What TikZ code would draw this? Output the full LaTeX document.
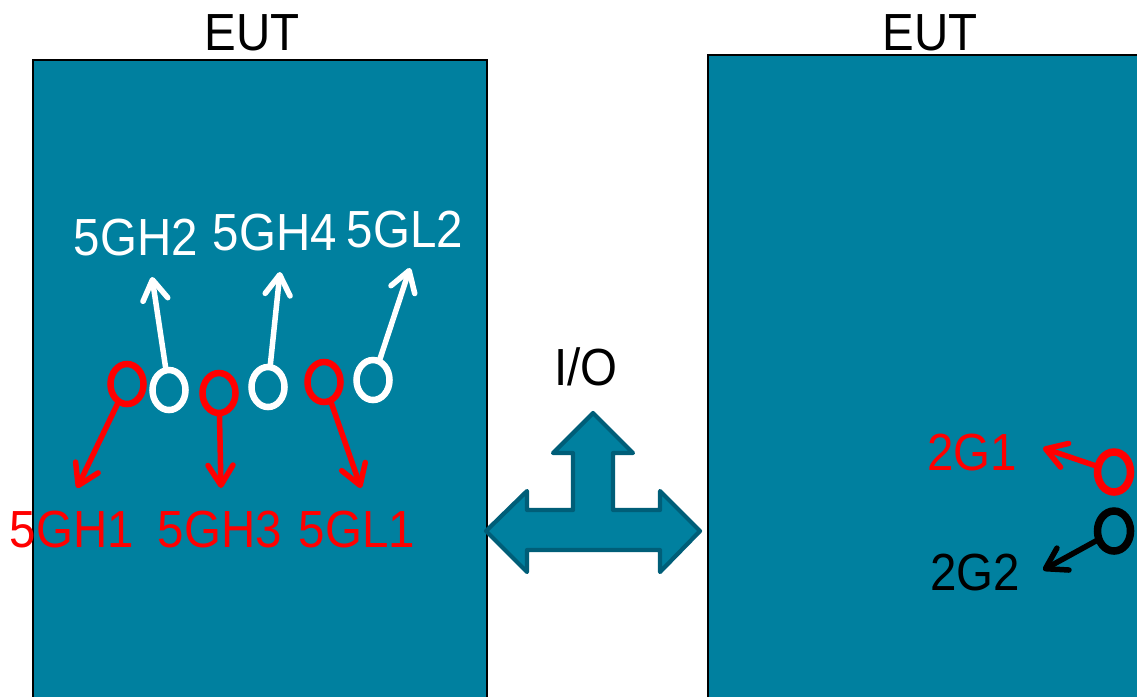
\documentclass[tikz,border=0pt]{standalone}
\usepackage{fontspec}
\setmainfont{Liberation Sans}
\usetikzlibrary{shapes.geometric,arrows.meta}
\definecolor{eutblue}{RGB}{0,128,159}
\definecolor{eutedge}{RGB}{0,94,120}
\tikzset{
	lbl/.style={font=\fontsize{13.5}{15}\selectfont, inner sep=0pt, yscale=1.1},
	ant/.style={ellipse, minimum width=0.33cm, minimum height=0.40cm, inner sep=0pt, line width=0.065cm},
	sig/.style={line width=0.055cm, line cap=round, -{Straight Barb[length=2mm,width=2.5mm,line cap=round,line join=round]}, shorten <=-1pt}
}
\begin{document}
\begin{tikzpicture}[x=0.01cm,y=-0.01cm]
		\useasboundingbox (0,0) rectangle (1137,696);
		\clip (0,0) rectangle (1137,696);
		% the two EUT boxes
		\draw[fill=eutblue, line width=0.6pt] (33,60) rectangle (487,720);
		\draw[fill=eutblue, line width=0.6pt] (708,55) rectangle (1150,720);
		\node[lbl] (eutL) at (252,33) {EUT};
		\node[lbl] (eutR) at (930,33) {EUT};
		
		% I/O arrow
		\draw[fill=eutblue, draw=eutedge, line width=1.2pt, line join=round] (593,413) -- (633,453) -- (613,453) -- (613,510) -- (660,510) -- (660,491) -- (700,531) -- (660,572) -- (660,550) -- (527,550) -- (527,572) -- (486,531) -- (527,491) -- (527,510) -- (573,510) -- (573,453) -- (553,453) -- cycle;
		\node[lbl] (io) at (586,367) {I/O};
		
		% 5G antennas
		\node[ant, draw=red] (r1) at (127,384) {};
		\node[ant, draw=white] (w1) at (169,390) {};
		\node[ant, draw=red] (r2) at (219,393) {};
		\node[ant, draw=white] (w2) at (268,387) {};
		\node[ant, draw=red] (r3) at (324,382) {};
		\node[ant, draw=white] (w3) at (373,380) {};
		
		\coordinate (tw1) at (152,277);
		\coordinate (tw2) at (280,272);
		\coordinate (tw3) at (410,268);
		\coordinate (tr1) at (77,488);
		\coordinate (tr2) at (221,488);
		\coordinate (tr3) at (361,488);
		\draw[sig, white] (w1) -- (tw1);
		\draw[sig, white] (w2) -- (tw2);
		\draw[sig, white] (w3) -- (tw3);
		\draw[sig, red] (r1) -- (tr1);
		\draw[sig, red] (r2) -- (tr2);
		\draw[sig, red] (r3) -- (tr3);
		
		\node[lbl, white] (h2) at (136,238) {5GH2};
		\node[lbl, white] (h4) at (275,233) {5GH4};
		\node[lbl, white] (l2) at (405,230) {5GL2};
		\node[lbl, red] (h1) at (72,530) {5GH1};
		\node[lbl, red] (h3) at (220,530) {5GH3};
		\node[lbl, red] (l1) at (357,530) {5GL1};
		
		% 2G antennas
		\node[ant, draw=red, line width=0.075cm] (g1) at (1114,472) {};
		\node[ant, draw=black, line width=0.075cm] (g2) at (1114,531) {};
		\coordinate (tg1) at (1043,448);
		\coordinate (tg2) at (1043,570);
		\draw[sig, red] (g1) -- (tg1);
		\draw[sig, black] (g2) -- (tg2);
		\node[lbl, red] (n1) at (972,453) {2G1};
		\node[lbl] (n2) at (975,572) {2G2};
	\end{tikzpicture}
\end{document}
